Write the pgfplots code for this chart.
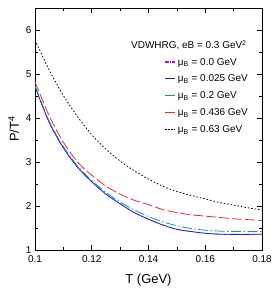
\documentclass[border=0pt]{standalone}
\usepackage{fontspec}
\setmainfont{Liberation Sans}
\usepackage{pgfplots}
\pgfplotsset{compat=1.18}
\definecolor{myteal}{RGB}{0,160,160}
\definecolor{myred}{RGB}{255,40,40}
\definecolor{mymag}{RGB}{220,0,220}
\definecolor{myblue}{RGB}{30,30,240}
\begin{document}
\begin{tikzpicture}
\begin{axis}[
  scale only axis, width=227bp, height=242bp,
  xmin=0.1, xmax=0.18, ymin=1, ymax=6.5,
  xtick={0.1,0.12,0.14,0.16,0.18},
  minor x tick num=1,
  ytick={1,2,3,4,5,6},
  minor y tick num=1,
  tick align=inside,
  major tick length=5bp, minor tick length=3bp,
  tick style={black, line width=0.6pt},
  axis line style={line width=0.8pt},
  /pgf/number format/assume math mode=true,
  xticklabel style={/pgf/number format/fixed, /pgf/number format/precision=2, yshift=-2bp},
  ticklabel style={font=\fontsize{10}{12}\selectfont},
  xlabel={T (GeV)}, ylabel={P/T\textsuperscript{4}},
  label style={font=\fontsize{13}{15}\selectfont},
  xlabel style={yshift=-5bp},
  legend style={draw=none, fill=none, at={(0.57,0.802)}, anchor=north west,
    font=\fontsize{10}{12}\selectfont, row sep=4.5bp, inner sep=0pt},
  legend cell align=left,
  legend image code/.code={\draw[#1] (0bp,0.5bp) -- (10bp,0.5bp);},
]
\addplot[mymag, line width=0.6pt, dash pattern=on 4bp off 1.2bp on 0.8bp off 1.2bp on 0.8bp off 1.2bp, smooth, forget plot] coordinates {
(0.100,4.71) (0.105,3.90) (0.110,3.32) (0.115,2.88) (0.120,2.55) (0.125,2.27) (0.130,2.05) (0.135,1.85) (0.140,1.70) (0.145,1.57) (0.150,1.47) (0.155,1.42) (0.160,1.38) (0.165,1.36) (0.170,1.355) (0.175,1.355) (0.180,1.36)};
\addplot[color=myblue, line width=0.8pt, smooth, forget plot] coordinates {
(0.100,4.71) (0.105,3.90) (0.110,3.32) (0.115,2.88) (0.120,2.55) (0.125,2.27) (0.130,2.05) (0.135,1.85) (0.140,1.70) (0.145,1.57) (0.150,1.47) (0.155,1.42) (0.160,1.38) (0.165,1.36) (0.170,1.355) (0.175,1.355) (0.180,1.36)};
\addplot[color=myteal, line width=0.8pt, dash pattern=on 10bp off 2.5bp on 1.5bp off 2.5bp, smooth, forget plot] coordinates {
(0.100,4.74) (0.105,3.93) (0.110,3.35) (0.115,2.91) (0.120,2.58) (0.125,2.31) (0.130,2.09) (0.135,1.91) (0.140,1.76) (0.145,1.64) (0.150,1.55) (0.155,1.49) (0.160,1.45) (0.165,1.43) (0.170,1.42) (0.175,1.42) (0.180,1.42)};
\addplot[color=myred, line width=0.8pt, dash pattern=on 10bp off 3bp, smooth, forget plot] coordinates {
(0.100,4.82) (0.105,4.05) (0.110,3.45) (0.115,3.00) (0.120,2.70) (0.125,2.45) (0.130,2.27) (0.135,2.13) (0.140,2.03) (0.145,1.92) (0.150,1.85) (0.155,1.80) (0.160,1.77) (0.165,1.74) (0.170,1.71) (0.175,1.69) (0.180,1.67)};
\addplot[color=black, line width=0.8pt, dash pattern=on 1.5bp off 2bp, smooth, forget plot] coordinates {
(0.100,5.77) (0.105,5.09) (0.110,4.51) (0.115,4.03) (0.120,3.62) (0.125,3.29) (0.130,3.02) (0.135,2.80) (0.140,2.61) (0.145,2.45) (0.150,2.33) (0.155,2.24) (0.160,2.16) (0.165,2.08) (0.170,2.02) (0.175,1.96) (0.180,1.91)};
\addlegendimage{draw=mymag, line width=1.4pt, dash pattern=on 3.5bp off 1bp on 1.2bp off 1bp}
\addlegendentry{μ\textsubscript{B} = 0.0 GeV}
\addlegendimage{draw=myblue, line width=1.4pt}
\addlegendentry{μ\textsubscript{B} = 0.025 GeV}
\addlegendimage{draw=myteal, line width=1.4pt}
\addlegendentry{μ\textsubscript{B} = 0.2 GeV}
\addlegendimage{draw=myred, line width=1.4pt}
\addlegendentry{μ\textsubscript{B} = 0.436 GeV}
\addlegendimage{draw=black, line width=1pt, dash pattern=on 1.5bp off 1.5bp}
\addlegendentry{μ\textsubscript{B} = 0.63 GeV}
\node[anchor=west, font=\fontsize{10}{12}\selectfont, inner sep=0pt] at (rel axis cs:0.423,0.847) {VDWHRG, eB = 0.3 GeV\textsuperscript{2}};
\end{axis}
\pgfresetboundingbox
\path (current axis.south west) ++(-35bp,-42bp) coordinate (bl);
\path (current axis.north east) ++(14bp,8bp) coordinate (tr);
\path (bl) rectangle (tr);
\end{tikzpicture}
\end{document}
